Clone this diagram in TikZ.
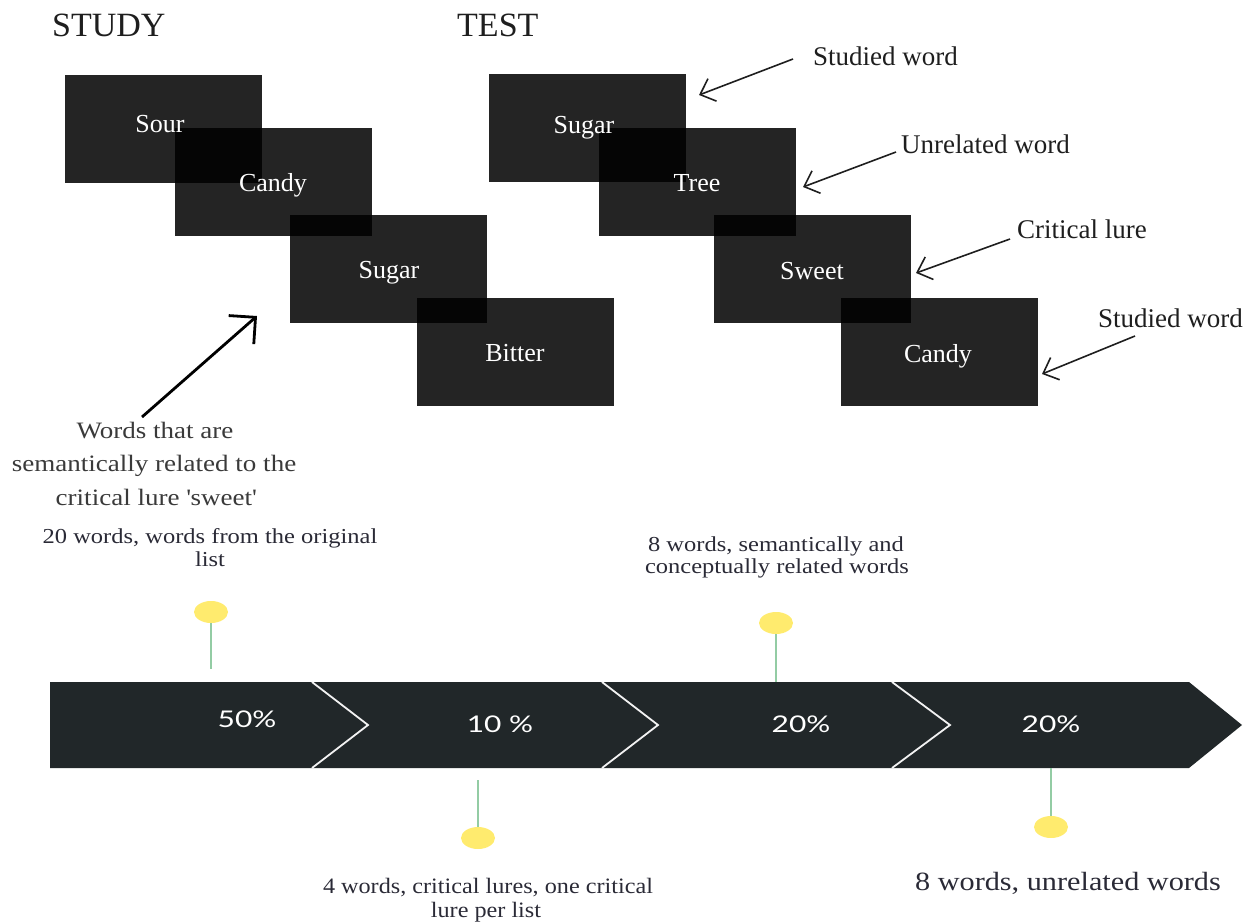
\documentclass[tikz,border=0pt]{standalone}
\usepackage{fontspec}
\setmainfont{Liberation Serif}
\newfontfamily\wserif[FakeStretch=1.15]{Liberation Serif}
\newfontfamily\nserif[FakeStretch=1.1]{Liberation Serif}
\newfontfamily\pctfont[FakeStretch=1.3]{Lato}
\usetikzlibrary{arrows.meta,shapes.geometric}
\definecolor{bandc}{HTML}{212729}
\definecolor{pinyel}{HTML}{FFEB6E}
\definecolor{stemc}{HTML}{93CCA4}
\definecolor{txtgray}{HTML}{3A3A3A}
\definecolor{txtdark}{HTML}{2A2A36}
\definecolor{lbl}{HTML}{1E1E1E}
\begin{document}
\begin{tikzpicture}[x=1pt,y=-1pt,
  wordbox/.style={fill=black, fill opacity=0.86, draw=none, minimum width=197pt, minimum height=108pt, inner sep=0pt, anchor=north west},
  wordtxt/.style={text=white, font=\fontsize{26}{30}\selectfont, anchor=base, inner sep=0pt},
  headtxt/.style={text=lbl, font=\fontsize{34}{40}\selectfont, anchor=base west, inner sep=0pt},
  arrlabel/.style={text=lbl, font=\fontsize{27}{32}\selectfont, anchor=base west, inner sep=0pt},
  thinarrow/.style={draw=lbl, line width=1.6pt, -{Straight Barb[length=13pt,width=24pt,line width=1.6pt]}},
  thickarrow/.style={draw=black, line width=2.8pt, -{Straight Barb[length=19pt,width=38pt,line width=2.8pt]}},
  captxt/.style={text=txtgray, font=\wserif\fontsize{23.5}{28}\selectfont, anchor=base, inner sep=0pt},
  notetxt/.style={text=txtdark, font=\wserif\fontsize{21.3}{25}\selectfont, anchor=base, inner sep=0pt},
  notetimes/.style={text=txtdark, font=\nserif\fontsize{22}{26}\selectfont, anchor=base, inner sep=0pt},
  segment/.style={fill=bandc, draw=none},
  sepline/.style={draw=white!90!gray, line width=1.8pt},
  pcttxt/.style={text=white, font=\pctfont\fontsize{23}{28}\selectfont, anchor=base, inner sep=0pt},
  pindot/.style={ellipse, fill=pinyel, draw=none, minimum width=34pt, minimum height=22pt, inner sep=0pt},
  pinstem/.style={draw=stemc, line width=2.6pt}
]
\useasboundingbox (0,0) rectangle (1252,921);

% headings
\node[headtxt] (study) at (52,36) {STUDY};
\node[headtxt] (test) at (457,36) {TEST};

% study boxes
\node[wordbox] (s1) at (65,75) {};
\node[wordbox] (s2) at (175,128) {};
\node[wordbox] (s3) at (290,215) {};
\node[wordbox] (s4) at (417,298) {};
% test boxes
\node[wordbox] (t1) at (489,74) {};
\node[wordbox] (t2) at (599,128) {};
\node[wordbox] (t3) at (714,215) {};
\node[wordbox] (t4) at (841,298) {};

% box words
\node[wordtxt] (s1w) at (160,132) {Sour};
\node[wordtxt] (s2w) at (273,191) {Candy};
\node[wordtxt] (s3w) at (389,278) {Sugar};
\node[wordtxt] (s4w) at (515,361) {Bitter};
\node[wordtxt] (t1w) at (584,133) {Sugar};
\node[wordtxt] (t2w) at (697,191) {Tree};
\node[wordtxt] (t3w) at (812,279) {Sweet};
\node[wordtxt] (t4w) at (938,362) {Candy};

% right labels and arrows
\node[arrlabel] (l1) at (813,65) {Studied word};
\node[arrlabel] (l2) at (901,153) {Unrelated word};
\node[arrlabel] (l3) at (1017,238) {Critical lure};
\node[arrlabel] (l4) at (1098,327) {Studied word};
\coordinate (a1s) at (793,59);  \coordinate (a1e) at (699,95);
\coordinate (a2s) at (896,152); \coordinate (a2e) at (803,187);
\coordinate (a3s) at (1010,239); \coordinate (a3e) at (916,273);
\coordinate (a4s) at (1135,336); \coordinate (a4e) at (1042,374);
\draw[thinarrow] (a1s) -- (a1e);
\draw[thinarrow] (a2s) -- (a2e);
\draw[thinarrow] (a3s) -- (a3e);
\draw[thinarrow] (a4s) -- (a4e);

% left caption and arrow
\coordinate (las) at (142,417);
\coordinate (lae) at (257,316);
\draw[thickarrow] (las) -- (lae);
\node[captxt] (c1) at (155,438) {Words that are};
\node[captxt] (c2) at (154,471) {semantically related to the};
\node[captxt] (c3) at (156,505) {critical lure \textquotesingle sweet\textquotesingle};

% notes
\node[notetxt] (n1a) at (210,543) {20 words, words from the original};
\node[notetxt] (n1b) at (210,566) {list};
\node[notetxt] (n2a) at (776,551) {8 words, semantically and};
\node[notetxt] (n2b) at (777,573) {conceptually related words};
\node[notetimes] (n3a) at (488,893) {4 words, critical lures, one critical};
\node[notetimes] (n3b) at (486,917) {lure per list};
\node[notetxt, font=\wserif\fontsize{26.3}{30}\selectfont] (n4) at (1068,890) {8 words, unrelated words};

% chevron band
\path[segment] (50,682) -- (312,682) -- (368,725) -- (312,768) -- (50,768) -- cycle;
\path[segment] (312,682) -- (602,682) -- (658,725) -- (602,768) -- (312,768) -- (368,725) -- cycle;
\path[segment] (602,682) -- (892,682) -- (950,725) -- (892,768) -- (602,768) -- (658,725) -- cycle;
\path[segment] (892,682) -- (1189,682) -- (1242,725) -- (1189,768) -- (892,768) -- (950,725) -- cycle;
\draw[sepline] (312,682) -- (368,725) -- (312,768);
\draw[sepline] (602,682) -- (658,725) -- (602,768);
\draw[sepline] (892,682) -- (950,725) -- (892,768);

\node[pcttxt] (p1) at (247,727) {50\%};
\node[pcttxt] (p2) at (500,732) {10 \%};
\node[pcttxt] (p3) at (801,732) {20\%};
\node[pcttxt] (p4) at (1051,732) {20\%};

% pins
\node[pindot] (d1) at (211,612) {};
\node[pindot] (d2) at (776,623) {};
\node[pindot] (d3) at (478,838) {};
\node[pindot] (d4) at (1051,827) {};
\coordinate (e1) at (211,669);
\coordinate (e2) at (776,682);
\coordinate (e3) at (478,780);
\coordinate (e4) at (1051,768);
\draw[pinstem] (d1.south) -- (e1);
\draw[pinstem] (d2.south) -- (e2);
\draw[pinstem] (d3.north) -- (e3);
\draw[pinstem] (d4.north) -- (e4);
\end{tikzpicture}
\end{document}
